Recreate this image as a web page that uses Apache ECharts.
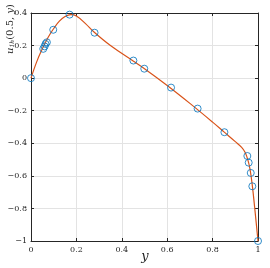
<!DOCTYPE html>
<html><head><meta charset="utf-8">
<script src="https://cdn.jsdelivr.net/npm/echarts@6/dist/echarts.min.js"></script>
<style>html,body{margin:0;padding:0;background:#fff}#c{width:270px;height:268px}</style>
</head><body><div id="c"></div>
<script>
const markerX = [0, 0.054, 0.06, 0.064, 0.07, 0.098, 0.17, 0.28, 0.451, 0.499, 0.617, 0.734, 0.852, 0.953, 0.959, 0.968, 0.975, 1];
const markerY = [0, 0.18, 0.195, 0.21, 0.22, 0.297, 0.39, 0.279, 0.108, 0.058, -0.058, -0.187, -0.332, -0.478, -0.519, -0.582, -0.664, -1];
const curveX = [0, 0.025, 0.05, 0.075, 0.1, 0.125, 0.15, 0.175, 0.2, 0.24, 0.28, 0.35, 0.45, 0.5, 0.6, 0.7, 0.8, 0.85, 0.9, 0.928, 0.943, 0.955, 0.965, 0.975, 0.985, 1];
const curveY = [0, 0.1, 0.18, 0.25, 0.305, 0.35, 0.378, 0.39, 0.382, 0.335, 0.28, 0.2, 0.105, 0.058, -0.045, -0.155, -0.27, -0.33, -0.39, -0.425, -0.455, -0.5, -0.56, -0.66, -0.79, -1];
const xTicks = [0, 0.2, 0.4, 0.6, 0.8, 1];
const yTicks = [0.4, 0.2, 0, -0.2, -0.4, -0.6, -0.8, -1];

const font = 'DejaVu Serif';
const fmt = v => { const r = Math.round(v*10)/10; return (r < 0 ? '\u2212' + String(-r) : String(r)); };
const axisLine = {show:true, onZero:false, lineStyle:{color:'#262626', width:1}};
const tick = {show:true, inside:true, length:3, lineStyle:{color:'#262626'}};
const chart = echarts.init(document.getElementById('c'), null, {renderer:'canvas'});
chart.setOption({
  animation:false,
  backgroundColor:'#fff',
  grid:{left:31, right:12, top:13, bottom:27},
  xAxis:[
    {type:'value', min:0, max:1, interval:0.2, position:'bottom',
     axisLine:axisLine, axisTick:tick,
     axisLabel:{fontFamily:font, fontSize:8, color:'#262626', margin:5, formatter:fmt},
     splitLine:{show:true, lineStyle:{color:'#e3e3e3', width:1}}},
    {type:'value', min:0, max:1, interval:0.2, position:'top',
     axisLine:axisLine, axisTick:tick,
     axisLabel:{show:false}, splitLine:{show:false}}
  ],
  yAxis:[
    {type:'value', min:-1, max:0.4, interval:0.2, position:'left',
     axisLine:axisLine, axisTick:tick,
     axisLabel:{fontFamily:font, fontSize:8, color:'#262626', margin:4, formatter:fmt},
     splitLine:{show:true, lineStyle:{color:'#e3e3e3', width:1}}},
    {type:'value', min:-1, max:0.4, interval:0.2, position:'right',
     axisLine:axisLine, axisTick:tick,
     axisLabel:{show:false}, splitLine:{show:false}}
  ],
  graphic:[
    {type:'text', x:145, y:257, style:{text:'y', font:'italic 13px "DejaVu Serif"', fill:'#262626', textAlign:'center', textVerticalAlign:'middle'}},
    {type:'text', x:10, y:29, rotation:Math.PI/2,
     style:{text:'{u|u}{s|1h}{n|(0.5, }{u|y}{n|)}', textAlign:'center', textVerticalAlign:'middle', fill:'#262626',
       rich:{u:{fontFamily:font, fontStyle:'italic', fontSize:10, color:'#262626'},
             s:{fontFamily:font, fontStyle:'italic', fontSize:6, color:'#262626', padding:[5,0,0,0]},
             n:{fontFamily:font, fontSize:10, color:'#262626'}}}}
  ],
  series:[
    {type:'line', data:curveX.map((x,i)=>[x, curveY[i]]), smooth:0.4, showSymbol:false,
     lineStyle:{color:'#D95319', width:1.2}, z:2},
    {type:'scatter', data:markerX.map((x,i)=>[x, markerY[i]]), symbol:'circle', symbolSize:7,
     itemStyle:{color:'rgba(0,0,0,0)', borderColor:'#0072BD', borderWidth:1}, z:3}
  ]
});
</script></body></html>
